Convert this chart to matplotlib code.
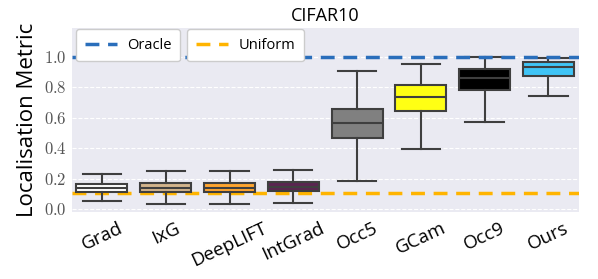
import numpy as np
import matplotlib
matplotlib.use("Agg")
import matplotlib.pyplot as plt
from matplotlib.ticker import FuncFormatter

plt.rcParams['font.family'] = ['Open Sans', 'DejaVu Sans']
plt.rcParams['mathtext.fontset'] = 'cm'

methods = ['Grad', 'IxG', 'DeepLIFT', 'IntGrad', 'Occ5', 'GCam', 'Occ9', 'Ours']
colors = ['#ffffff', '#d2b48c', '#ffa530', '#5a2550', '#808080', '#ffff14', '#000000', '#40c4f5']
whis_lo = [0.055, 0.035, 0.035, 0.041, 0.186, 0.395, 0.572, 0.743]
q1 = [0.114, 0.110, 0.110, 0.116, 0.465, 0.647, 0.781, 0.875]
med = [0.138, 0.140, 0.140, 0.147, 0.564, 0.735, 0.864, 0.936]
q3 = [0.162, 0.169, 0.169, 0.180, 0.658, 0.814, 0.923, 0.967]
whis_hi = [0.228, 0.248, 0.248, 0.259, 0.906, 0.954, 0.998, 0.993]
oracle = 1.0
uniform = 0.107

fig = plt.figure(figsize=(5.98, 2.79), dpi=100)
ax = fig.add_axes([72/598, 1-212/279, (579-72)/598, (212-28)/279])
ax.set_facecolor('#eaeaf2')
for s in ax.spines.values():
    s.set_visible(False)

stats = []
for i in range(len(methods)):
    stats.append(dict(med=med[i], q1=q1[i], q3=q3[i], whislo=whis_lo[i], whishi=whis_hi[i], fliers=[]))

edge = '#3f3f3f'
bp = ax.bxp(stats, positions=np.arange(len(methods)), widths=0.8, patch_artist=True,
            showfliers=False,
            boxprops=dict(edgecolor=edge, linewidth=1.5),
            medianprops=dict(color=edge, linewidth=1.5),
            whiskerprops=dict(color=edge, linewidth=1.5),
            capprops=dict(color=edge, linewidth=1.5),
            capwidths=0.6, zorder=3)
for patch, c in zip(bp['boxes'], colors):
    patch.set_facecolor(c)

lo = ax.axhline(oracle, color='#2a6ebb', ls='--', lw=2.5, dashes=(4, 2.5), zorder=4)
lu = ax.axhline(uniform, color='#ffb400', ls='--', lw=2.5, dashes=(4, 2.5), zorder=2)

ax.set_xlim(-0.47, 7.48)
ax.set_ylim(-0.02, 1.19)
ax.set_yticks(np.arange(0, 1.01, 0.2))
ax.yaxis.set_major_formatter(FuncFormatter(lambda v, p: r'$%.1f$' % v))
ax.grid(axis='y', color='white', ls='--', lw=0.8, zorder=0)
ax.set_axisbelow(True)
ax.tick_params(axis='y', length=0, labelsize=12, labelcolor='#555555', pad=4)
ax.tick_params(axis='x', length=0, labelsize=13.5, pad=5)
ax.set_xticks(np.arange(len(methods)))
ax.set_xticklabels(methods, rotation=25, ha='center')
ax.set_ylabel('Localisation Metric', fontsize=16, labelpad=4)
ax.set_title('CIFAR10', fontsize=13, pad=5)

legkw = dict(loc='upper left', fontsize=10.5, facecolor='white', framealpha=1,
             borderaxespad=0.0, borderpad=0.6, handlelength=2.2, handletextpad=0.7,
             edgecolor='#cccccc', fancybox=True)
leg1 = ax.legend([lo], ['Oracle'], bbox_to_anchor=(0.008, 0.995), **legkw)
leg1.set_zorder(6)
ax.add_artist(leg1)
leg2 = ax.legend([lu], ['Uniform'], bbox_to_anchor=(0.227, 0.995), **legkw)
leg2.set_zorder(6)

fig.savefig('out.png', dpi=100)
